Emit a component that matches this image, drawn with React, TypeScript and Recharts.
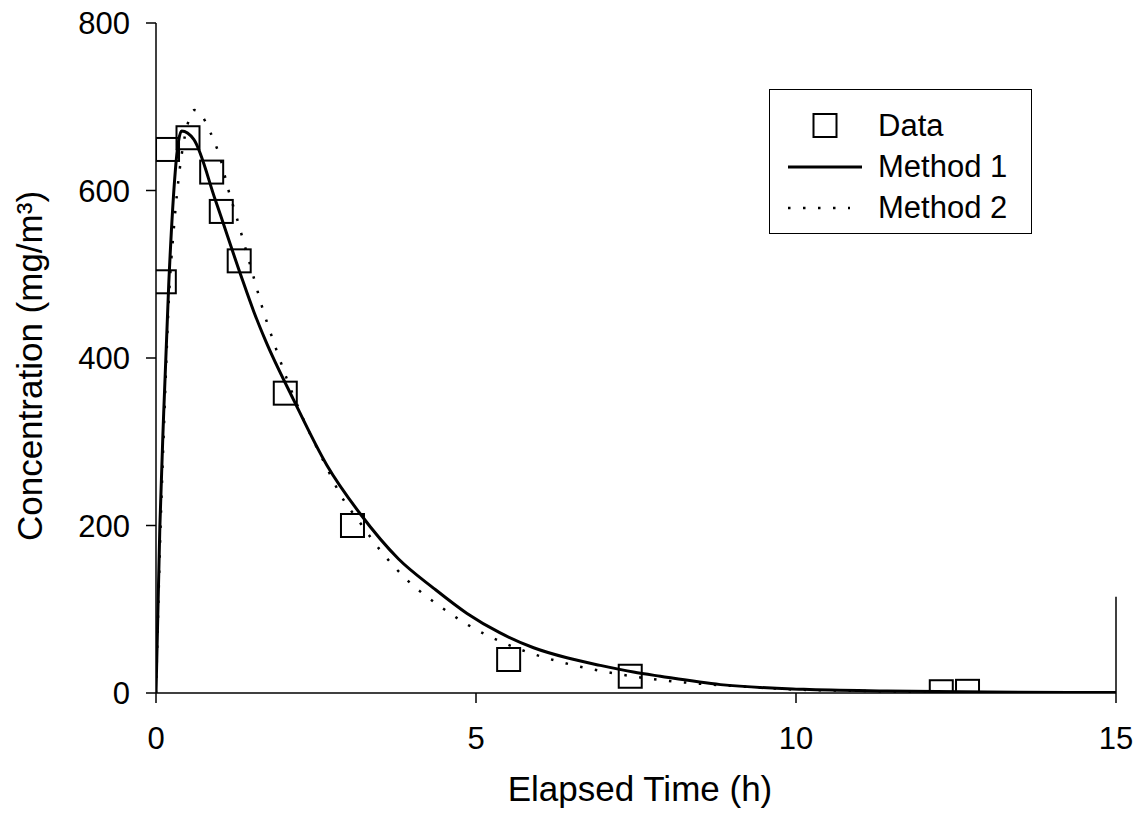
import {
  ComposedChart,
  Line,
  Scatter,
  XAxis,
  YAxis,
  Legend,
  ReferenceLine,
} from "recharts";

// measured points (open squares)
const dataTime = [0.13, 0.18, 0.5, 0.87, 1.02, 1.3, 2.02, 3.07, 5.51, 7.41, 12.27, 12.68];
const dataConc = [491, 649, 663, 622, 575, 516, 358, 200, 40, 20, 1.5, 2];

// Method 1 fit (solid)
const m1Time = [0, 0.06, 0.12, 0.2, 0.4, 0.59, 0.93, 1.32, 1.53, 1.71, 2.15, 2.67, 3.19, 3.79, 4.34, 4.86, 5.37, 5.9, 6.42, 6.94, 7.46, 7.88, 8.82, 10.12, 11.42, 13, 15];
const m1Conc = [0, 198, 334, 490, 671, 661, 588, 500, 455, 421, 350, 272, 214, 160, 125, 95, 72, 54, 42, 33, 25, 20, 10, 4.4, 2.4, 1.2, 0.5];

// Method 2 fit (dotted)
const m2Time = [0, 0.07, 0.13, 0.2, 0.28, 0.37, 0.49, 0.6, 0.72, 0.84, 1.01, 1.13, 1.26, 1.39, 1.52, 1.65, 1.88, 2.04, 2.32, 2.65, 2.88, 3.2, 3.53, 3.95, 4.43, 4.88, 5.34, 5.8, 6.25, 6.71, 7.15, 7.62, 8.3, 9.21, 9.9, 11, 12.5, 15];
const m2Conc = [0, 195, 330, 469, 556, 625, 678, 696, 689, 671, 637, 601, 568, 533, 498, 463, 410, 376, 324, 272, 237, 202, 168, 133, 104, 81, 63, 49, 38.5, 30, 23.5, 18, 12.3, 7.5, 4.4, 2.5, 1, 0.2];

const xTicks = [0, 5, 10, 15];
const yTicks = [0, 200, 400, 600, 800];

const FONT = '"Liberation Sans", Arial, sans-serif';

const points = dataTime.map((t, i) => ({ t, c: dataConc[i] }));
const method1 = m1Time.map((t, i) => ({ t, c: m1Conc[i] }));
const method2 = m2Time.map((t, i) => ({ t, c: m2Conc[i] }));

const SquareMark = (props: any) => {
  const { cx, cy } = props;
  return (
    <rect
      x={cx - 11.5}
      y={cy - 11.5}
      width={23}
      height={23}
      fill="none"
      stroke="#000"
      strokeWidth={2}
    />
  );
};

const XTitle = () => (
  <text x={640} y={801} textAnchor="middle" fontSize={35} fontFamily={FONT} fill="#000">
    Elapsed Time (h)
  </text>
);

const YTitle = () => (
  <text
    x={42}
    y={366}
    transform="rotate(-90 42 366)"
    textAnchor="middle"
    fontSize={35}
    fontFamily={FONT}
    fill="#000"
  >
    Concentration (mg/m³)
  </text>
);

const legendRow = { display: "flex", alignItems: "center", height: 41 } as const;

const LegendBox = () => (
  <div
    style={{
      boxSizing: "border-box",
      width: 263,
      height: 145,
      border: "1px solid #000",
      background: "#fff",
      paddingTop: 15,
      fontFamily: FONT,
      fontSize: 31,
      color: "#000",
      lineHeight: "41px",
    }}
  >
    <div style={legendRow}>
      <svg width={74} height={41} style={{ marginLeft: 18 }}>
        <rect x={25.5} y={9} width={23} height={23} fill="none" stroke="#000" strokeWidth={2} />
      </svg>
      <span style={{ marginLeft: 16 }}>Data</span>
    </div>
    <div style={legendRow}>
      <svg width={74} height={41} style={{ marginLeft: 18 }}>
        <line x1={0} y1={21} x2={74} y2={21} stroke="#000" strokeWidth={3} />
      </svg>
      <span style={{ marginLeft: 16 }}>Method 1</span>
    </div>
    <div style={legendRow}>
      <svg width={74} height={41} style={{ marginLeft: 18 }}>
        <line x1={0} y1={21} x2={62} y2={21} stroke="#000" strokeWidth={2.5} strokeDasharray="2.5 12.5" />
      </svg>
      <span style={{ marginLeft: 16 }}>Method 2</span>
    </div>
  </div>
);

export default function App() {
  return (
    <div style={{ position: "absolute", left: 0, top: 0, background: "#fff" }}>
      <ComposedChart
        width={1148}
        height={815}
        margin={{ top: 23, right: 32, bottom: 0, left: 0 }}
      >
        <XAxis
          dataKey="t"
          type="number"
          domain={[0, 15]}
          ticks={xTicks}
          height={122}
          tickSize={10}
          tickMargin={24}
          axisLine={{ stroke: "#000", strokeWidth: 1.5 }}
          tickLine={{ stroke: "#000", strokeWidth: 1.5 }}
          tick={{ fontSize: 31, fill: "#000", fontFamily: FONT }}
          label={XTitle}
          allowDataOverflow
        />
        <YAxis
          dataKey="c"
          type="number"
          domain={[0, 800]}
          ticks={yTicks}
          width={156}
          tickSize={10}
          tickMargin={16}
          axisLine={{ stroke: "#000", strokeWidth: 1.5 }}
          tickLine={{ stroke: "#000", strokeWidth: 1.5 }}
          tick={{ fontSize: 31, fill: "#000", fontFamily: FONT }}
          label={YTitle}
          allowDataOverflow
        />
        <ReferenceLine
          segment={[
            { x: 15, y: 0 },
            { x: 15, y: 115 },
          ]}
          stroke="#000"
          strokeWidth={1.5}
        />
        <Line
          data={method2}
          dataKey="c"
          type="monotone"
          stroke="#000"
          strokeWidth={2.5}
          strokeDasharray="2.5 12.5"
          dot={false}
          activeDot={false}
          isAnimationActive={false}
        />
        <Line
          data={method1}
          dataKey="c"
          type="monotone"
          stroke="#000"
          strokeWidth={3}
          dot={false}
          activeDot={false}
          isAnimationActive={false}
        />
        <Scatter
          data={points}
          dataKey="c"
          shape={SquareMark}
          isAnimationActive={false}
        />
        <Legend
          layout="vertical"
          align="center"
          verticalAlign="middle"
          content={LegendBox}
          wrapperStyle={{ left: 769, top: 89, width: 263, height: 145 }}
        />
      </ComposedChart>
    </div>
  );
}
